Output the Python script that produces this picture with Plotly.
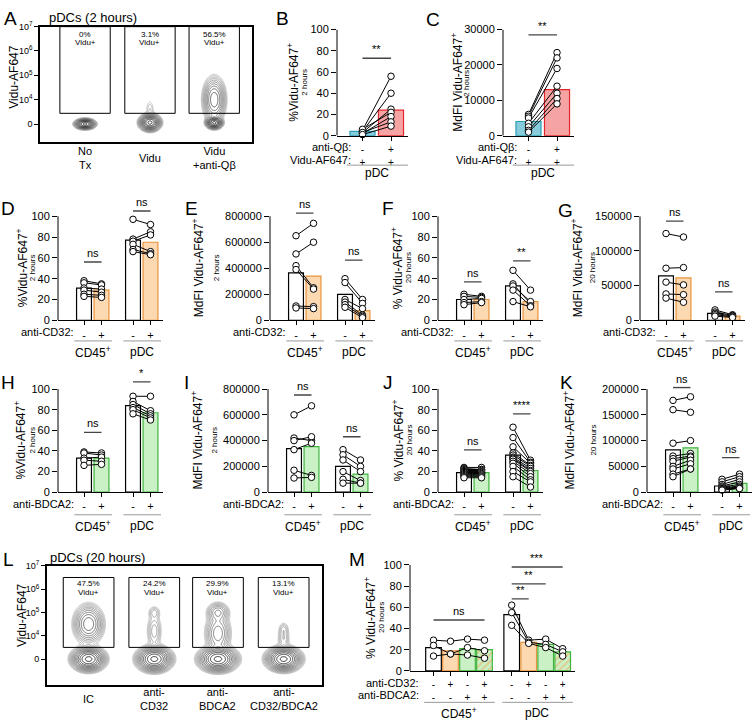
import numpy as np
import plotly.graph_objects as go

W, H = 756, 728
FONT = "Liberation Sans, Arial, Helvetica, sans-serif"

# ---------------- DATA ----------------
# A: flow plot, pDCs 2 h
A_labels = ["No<br>Tx", "Vidu", "Vidu<br>+anti-Qβ"]
A_pct = ["0%", "3.1%", "56.5%"]
A_centers = [0.68, 1.66, 2.63]
# contour populations per sample: (y position in decades, x spread, y spread, weight)
A_pops = [
    [(3.0, 0.062, 0.086, 1.0)],
    [(3.06, 0.065, 0.14, 1.0), (3.6, 0.04, 0.25, 0.02)],
    [(3.05, 0.05, 0.1, 1.0), (4.0, 0.075, 0.4, 0.3)],
]
# B: %Vidu-AF647+ pDC 2 h
B_means = [4, 24]
B_minus = [5, 4, 3, 6, 2, 3, 1]
B_plus = [56, 40, 25, 22, 18, 13, 9]
# C: MdFI pDC 2 h
C_means = [4000, 13000]
C_minus = [6000, 5500, 5000, 3500, 2500, 1500, 1000]
C_plus = [23500, 22000, 19000, 14000, 12000, 10500, 9000]
# D: %Vidu 2 h, anti-CD32
D_means = [31, 29, 77, 75]
D_cd45_ctrl = [38, 36, 31, 29, 25, 23]
D_cd45_trt = [35, 34, 30, 27, 24, 22]
D_pdc_ctrl = [97, 78, 76, 73, 68, 66]
D_pdc_trt = [92, 85, 82, 66, 64, 63]
# E: MdFI 2 h, anti-CD32
E_means = [365000, 340000, 200000, 75000]
E_cd45_ctrl = [650000, 510000, 420000, 390000, 110000, 95000]
E_cd45_trt = [745000, 600000, 250000, 240000, 105000, 90000]
E_pdc_ctrl = [320000, 290000, 160000, 140000, 120000, 100000]
E_pdc_trt = [160000, 130000, 90000, 40000, 30000, 20000]
# F: %Vidu 20 h, anti-CD32
F_means = [20, 20, 33, 18]
F_cd45_ctrl = [25, 23, 20, 17, 15]
F_cd45_trt = [23, 22, 21, 18, 17]
F_pdc_ctrl = [48, 35, 33, 29, 18]
F_pdc_trt = [29, 16, 18, 14, 13]
# G: MdFI 20 h, anti-CD32
G_means = [64000, 61000, 10000, 6000]
G_cd45_ctrl = [125000, 75000, 55000, 38000, 32000]
G_cd45_trt = [120000, 76000, 51000, 37000, 26000]
G_pdc_ctrl = [15000, 12000, 10000, 8000, 6000]
G_pdc_trt = [8000, 7000, 6000, 5000, 4000]
# H: %Vidu 2 h, anti-BDCA2
H_means = [33, 33, 84, 77]
H_cd45_ctrl = [39, 38, 33, 31, 26]
H_cd45_trt = [38, 36, 34, 30, 27]
H_pdc_ctrl = [93, 88, 85, 82, 80, 76]
H_pdc_trt = [93, 79, 76, 74, 72, 70]
# I: MdFI 2 h, anti-BDCA2
I_means = [338000, 354000, 200000, 140000]
I_cd45_ctrl = [600000, 420000, 400000, 330000, 170000, 110000]
I_cd45_trt = [670000, 400000, 430000, 380000, 130000, 115000]
I_pdc_ctrl = [330000, 290000, 250000, 160000, 100000, 70000]
I_pdc_trt = [250000, 200000, 160000, 90000, 70000, 70000]
# J: %Vidu 20 h, anti-BDCA2
J_means = [19, 19, 36, 21]
J_cd45_ctrl = [24, 23, 22, 21, 20, 20, 19, 19, 18, 17, 16, 15, 14]
J_cd45_trt = [24, 22, 22, 21, 20, 19, 19, 18, 18, 17, 16, 15, 14]
J_pdc_ctrl = [63, 53, 44, 38, 36, 34, 33, 32, 30, 28, 25, 20, 15]
J_pdc_trt = [31, 29, 28, 26, 25, 23, 21, 20, 18, 15, 12, 10, 5]
# K: MdFI 20 h, anti-BDCA2
K_means = [82000, 86000, 12000, 17000]
K_cd45_ctrl = [178000, 160000, 95000, 70000, 65000, 60000, 50000, 45000, 35000, 30000]
K_cd45_trt = [185000, 155000, 100000, 75000, 70000, 68000, 62000, 55000, 45000, 45000]
K_pdc_ctrl = [25000, 20000, 15000, 12000, 10000, 8000, 7000, 6000, 5000, 4000]
K_pdc_trt = [35000, 30000, 25000, 20000, 15000, 12000, 10000, 8000, 8000, 7000]
# L: flow plot, pDCs 20 h
L_labels = ["IC", "anti-<br>CD32", "anti-<br>BDCA2", "anti-<br>CD32/BDCA2"]
L_pct = ["47.5%", "24.2%", "29.9%", "13.1%"]
L_centers = [0.64, 1.65, 2.63, 3.64]
L_pops = [
    [(3.0, 0.105, 0.21, 1.0), (4.5, 0.1, 0.36, 0.3)],
    [(3.0, 0.11, 0.22, 1.0), (4.2, 0.06, 0.4, 0.05), (5.0, 0.05, 0.15, 0.03)],
    [(3.0, 0.12, 0.22, 1.0), (4.1, 0.09, 0.4, 0.15), (5.0, 0.08, 0.2, 0.12)],
    [(3.0, 0.11, 0.21, 1.0), (3.9, 0.05, 0.3, 0.04), (4.3, 0.04, 0.15, 0.02)],
]
# M: %Vidu 20 h, IC / anti-CD32 / anti-BDCA2 / both  (3 donors)
M_means = [22, 19, 21, 20, 53, 27, 25, 18]
M_cd45 = [[29, 24, 14], [28, 16, 16], [30, 22, 15], [29, 19, 12]]
M_pdc = [[62, 55, 43], [29, 27, 26], [30, 25, 22], [21, 18, 14]]

# ---------------- helpers ----------------
fig = go.Figure()
layout = {}
shapes = []
annos = []
nax = [0]


def fx(px):
    return px / W


def fy(py):
    return 1 - py / H


def new_axes(x0, x1, ytop, ybot, xrange, yrange, xkw=None, ykw=None):
    nax[0] += 1
    n = nax[0]
    s = '' if n == 1 else str(n)
    xa, ya = 'x' + s, 'y' + s
    base = dict(showgrid=False, zeroline=False, fixedrange=True)
    xd = dict(base, domain=[fx(x0), fx(x1)], range=xrange, anchor=ya)
    yd = dict(base, domain=[fy(ybot), fy(ytop)], range=yrange, anchor=xa)
    xd.update(xkw or {})
    yd.update(ykw or {})
    layout['xaxis' + s] = xd
    layout['yaxis' + s] = yd
    return xa, ya


def text(x, y, t, size=11, xref='paper', yref='paper', xanchor='center',
         yanchor='middle', angle=0, color='black'):
    if xref == 'paper':
        x = fx(x)
    if yref == 'paper':
        y = fy(y)
    annos.append(dict(x=x, y=y, xref=xref, yref=yref, text=t, showarrow=False,
                      xanchor=xanchor, yanchor=yanchor, textangle=angle,
                      font=dict(size=size, family=FONT, color=color)))


STY = {
    'white': ('white', 'black'),
    'orange': ('#fdd9b1', '#e8923a'),
    'green': ('#caf0c6', '#3db53d'),
    'teal': ('#86ccdb', '#2a9fb5'),
    'red': ('#f5a3a3', '#e3262b'),
    'hatch': ('#caf0c6', '#3db53d'),
}


def bar_panel(letter, lxy, axis_px, y0_px, ytop_px, ytop_val, yext, pos, unit,
              first_off, xend, means, styles, seqs, yticks, yticktext, ylab,
              ysub, ylab_x, ysub_x, sigs, rowlabs, signs, groups, line_dy, grp_dy,
              bw=0.85, row_dx=0.45, sign_size=11, row_step=14):
    ppu = (y0_px - ytop_px) / ytop_val
    top_px = y0_px - yext * ppu
    x1 = axis_px + (xend + first_off / unit) * unit
    xa, ya = new_axes(
        axis_px, x1, top_px, y0_px, [-first_off / unit, xend], [0, yext],
        xkw=dict(showline=True, linecolor='black', linewidth=1, ticks='outside',
                 ticklen=4, tickcolor='black', tickvals=pos, ticktext=signs,
                 showticklabels=True,
                 tickfont=dict(size=sign_size, family=FONT, color='black')),
        ykw=dict(showline=False, ticks='outside', ticklen=5, tickcolor='black',
                 tickvals=yticks, ticktext=yticktext,
                 tickfont=dict(size=11, family=FONT, color='black')))
    shapes.append(dict(type='line', xref=xa + ' domain', yref=ya, x0=0, x1=0,
                       y0=0, y1=ytop_val, line=dict(color='black', width=1)))
    for p, m, st in zip(pos, means, styles):
        fill, edge = STY[st]
        mk = dict(color=fill, line=dict(color=edge, width=1.2))
        if st == 'hatch':
            mk['pattern'] = dict(shape='/', fgcolor='#f5a54f', bgcolor=fill,
                                 size=5, solidity=0.35)
        fig.add_trace(go.Bar(x=[p], y=[m], width=bw, marker=mk, xaxis=xa,
                             yaxis=ya, hoverinfo='skip'))
    lx, ly, mx, my = [], [], [], []
    for seq in seqs:
        n = len(seq[0][1])
        for i in range(n):
            for (p, vals) in seq:
                lx.append(p)
                ly.append(vals[i])
            lx.append(None)
            ly.append(None)
        for (p, vals) in seq:
            mx += [p] * len(vals)
            my += list(vals)
    fig.add_trace(go.Scatter(x=lx, y=ly, mode='lines', xaxis=xa, yaxis=ya,
                             line=dict(color='black', width=1), hoverinfo='skip',
                             cliponaxis=False))
    fig.add_trace(go.Scatter(x=mx, y=my, mode='markers', xaxis=xa, yaxis=ya,
                             marker=dict(size=6.5, color='white',
                                         line=dict(color='black', width=1)),
                             hoverinfo='skip', cliponaxis=False))
    yc = (y0_px + ytop_px) / 2
    text(ylab_x, yc, ylab, size=12, angle=-90)
    text(ysub_x, yc, ysub, size=8, angle=-90)
    text(lxy[0], lxy[1], letter, size=19)
    for i, lab in enumerate(rowlabs):
        text(pos[0] - row_dx, y0_px + 12 + i * row_step, lab, size=11, xref=xa,
             xanchor='right')
    for (lab, pa, pb) in groups:
        yy = fy(y0_px + line_dy)
        shapes.append(dict(type='line', xref=xa, yref='paper', x0=pa - 0.55,
                           x1=pb + 0.6, y0=yy, y1=yy,
                           line=dict(color='#999999', width=1)))
        text((pa + pb) / 2, y0_px + grp_dy, lab, size=12, xref=xa)
    for (pa, pb, v, t) in sigs:
        shapes.append(dict(type='line', xref=xa, yref=ya, x0=pa, x1=pb, y0=v,
                           y1=v, line=dict(color='#444444', width=1.3)))
        annos.append(dict(x=(pa + pb) / 2, y=v, xref=xa, yref=ya, text=t,
                          showarrow=False, yanchor='bottom', yshift=1,
                          font=dict(size=11, family=FONT, color='black')))
    return xa, ya


def flow_panel(x0, x1, ytop, ybot, xr, yr, centers, pops, gate_half, gate_u,
               labels, label_y, frame_w):
    xa, ya = new_axes(
        x0, x1, ytop, ybot, xr, yr,
        xkw=dict(showline=True, mirror=True, linecolor='black', linewidth=frame_w,
                 ticks='', showticklabels=False),
        ykw=dict(showline=True, mirror=True, linecolor='black', linewidth=frame_w,
                 ticks='outside', ticklen=4, tickcolor='black',
                 tickvals=[3, 4, 5, 6, 7],
                 ticktext=['0', '10<sup>4</sup>', '10<sup>5</sup>',
                           '10<sup>6</sup>', '10<sup>7</sup>'],
                 tickfont=dict(size=9, family=FONT, color='black')))
    for c, plist, lab in zip(centers, pops, labels):
        xs = np.linspace(c - 0.5, c + 0.5, 160)
        ys = np.linspace(yr[0], yr[1], 260)
        X, Y = np.meshgrid(xs, ys)
        Z = np.zeros_like(X)
        for (u, sx, sy, w) in plist:
            Z += w * np.exp(-0.5 * ((X - c) / sx) ** 2 - 0.5 * ((Y - u) / sy) ** 2)
        Z = np.log10(Z / Z.max() + 1e-9)
        fig.add_trace(go.Contour(
            x=xs, y=ys, z=Z, xaxis=xa, yaxis=ya, showscale=False,
            contours=dict(coloring='lines', start=-2.0, end=-0.05, size=0.15),
            line=dict(width=0.8), zmin=-2.0, zmax=0, zauto=False,
            colorscale=[[0, '#b8b8b8'], [0.6, '#505050'], [1, '#000000']],
            hoverinfo='skip'))
        shapes.append(dict(type='rect', xref=xa, yref=ya, x0=c - gate_half,
                           x1=c + gate_half, y0=gate_u[0], y1=gate_u[1],
                           line=dict(color='black', width=1)))
        text(c, label_y, lab, size=11, xref=xa)
    return xa, ya


# ---------------- PANEL A ----------------
xa, ya = flow_panel(40, 252, 20, 137, [0, 3.2], [2.28, 7], A_centers, A_pops,
                    0.38, (3.44, 7.0), A_labels, 154, 1.5)
for c, p in zip(A_centers, A_pct):
    text(c, 6.68, p, size=8, xref=xa, yref=ya)
    text(c, 6.36, 'Vidu+', size=8, xref=xa, yref=ya)
text(10, 12, 'A', size=19)
text(47, 11, 'pDCs (2 hours)', size=13, xanchor='left')
text(14, 72, 'Vidu-AF647', size=12, angle=-90)

# ---------------- PANEL B / C ----------------
pct_ticks = [0, 20, 40, 60, 80, 100]
pct_text = [str(v) for v in pct_ticks]
BC_rowlabs = ["anti-Qβ:", "Vidu-AF647:"]
BC_signs = ['-<br>+', '+<br>+']
bar_panel('B', (282, 12), 337, 131, 23, 100, 100, [0, 1], 28.5, 25.5, 1.6,
          B_means, ['teal', 'red'], [[(0, B_minus), (1, B_plus)]],
          pct_ticks, pct_text, '%Vidu-AF647<sup>+</sup>', '2 hours', 293, 305,
          [(0, 1, 73, '**')], BC_rowlabs, BC_signs, [("pDC", 0, 1)], 30, 38,
          bw=0.88, row_dx=0.35, sign_size=10, row_step=13)
c_ticks = [0, 10000, 20000, 30000]
bar_panel('C', (433, 13), 503, 131, 23, 30000, 30000, [0, 1], 28.5, 25.5, 1.6,
          C_means, ['teal', 'red'], [[(0, C_minus), (1, C_plus)]],
          c_ticks, [str(v) for v in c_ticks], 'MdFI Vidu-AF647<sup>+</sup>',
          '2 hours', 457, 467, [(0, 1, 28500, '**')], BC_rowlabs, BC_signs,
          [("pDC", 0, 1)], 30, 38, bw=0.88, row_dx=0.35, sign_size=10,
          row_step=13)

# ---------------- rows D-G and H-K ----------------
POS4 = [0, 1, 2.8, 3.8]
SIGN4 = ['-', '+', '-', '+']
GRP = [("CD45<sup>+</sup>", 0, 1), ("pDC", 2.8, 3.8)]
mdfi8 = [0, 200000, 400000, 600000, 800000]
mdfi15 = [0, 50000, 100000, 150000]
mdfi20 = [0, 50000, 100000, 150000, 200000]


def row_panel(letter, lxy, axis_px, y0, ytop, tv, yext, means, sty2, data,
              ticks, ylab, ysub, ylx, ysx, sigs, rowlab):
    bar_panel(letter, lxy, axis_px, y0, ytop, tv, yext, POS4, 17.5, 26, 4.5,
              means, ['white', sty2, 'white', sty2],
              [[(0, data[0]), (1, data[1])], [(2.8, data[2]), (3.8, data[3])]],
              ticks, [str(v) for v in ticks], ylab, ysub, ylx, ysx, sigs,
              [rowlab], SIGN4, GRP, 21 if y0 < 400 else 23,
              32 if y0 < 400 else 34)


Y2, T2 = 319, 213
row_panel('D', (8, 205), 58, Y2, T2, 100, 108, D_means, 'orange',
          [D_cd45_ctrl, D_cd45_trt, D_pdc_ctrl, D_pdc_trt], pct_ticks,
          '%Vidu-AF647<sup>+</sup>', '2 hours', 22, 32,
          [(0, 1, 56, 'ns'), (2.8, 3.8, 105, 'ns')], 'anti-CD32:')
row_panel('E', (191, 205), 270, Y2, T2, 800000, 850000, E_means, 'orange',
          [E_cd45_ctrl, E_cd45_trt, E_pdc_ctrl, E_pdc_trt], mdfi8,
          'MdFI Vidu-AF647<sup>+</sup>', '2 hours', 198, 216,
          [(0, 1, 823000, 'ns'), (2.8, 3.8, 462000, 'ns')], 'anti-CD32:')
row_panel('F', (388, 205), 438, Y2, T2, 100, 100, F_means, 'orange',
          [F_cd45_ctrl, F_cd45_trt, F_pdc_ctrl, F_pdc_trt], pct_ticks,
          '% Vidu-AF647<sup>+</sup>', '20 hours', 397, 408,
          [(0, 1, 37, 'ns'), (2.8, 3.8, 57, '**')], 'anti-CD32:')
row_panel('G', (565, 207), 640, Y2, T2, 150000, 150000, G_means, 'orange',
          [G_cd45_ctrl, G_cd45_trt, G_pdc_ctrl, G_pdc_trt], mdfi15,
          'MdFI Vidu-AF647<sup>+</sup>', '20 hours', 577, 592,
          [(0, 1, 143000, 'ns'), (2.8, 3.8, 41000, 'ns')], 'anti-CD32:')

Y3, T3 = 494, 389
row_panel('H', (8, 382), 58, Y3, T3, 100, 110, H_means, 'green',
          [H_cd45_ctrl, H_cd45_trt, H_pdc_ctrl, H_pdc_trt], pct_ticks,
          '%Vidu-AF647<sup>+</sup>', '2 hours', 20, 33,
          [(0, 1, 58, 'ns'), (2.8, 3.8, 107, '*')], 'anti-BDCA2:')
row_panel('I', (186, 382), 268, Y3, T3, 800000, 800000, I_means, 'green',
          [I_cd45_ctrl, I_cd45_trt, I_pdc_ctrl, I_pdc_trt], mdfi8,
          'MdFI Vidu-AF647<sup>+</sup>', '2 hours', 197, 215,
          [(0, 1, 754000, 'ns'), (2.8, 3.8, 430000, 'ns')], 'anti-BDCA2:')
row_panel('J', (388, 382), 438, Y3, T3, 100, 100, J_means, 'green',
          [J_cd45_ctrl, J_cd45_trt, J_pdc_ctrl, J_pdc_trt], pct_ticks,
          '% Vidu-AF647<sup>+</sup>', '20 hours', 398, 410,
          [(0, 1, 41, 'ns'), (2.8, 3.8, 76, '****')], 'anti-BDCA2:')
row_panel('K', (566, 382), 647, Y3, T3, 200000, 205000, K_means, 'green',
          [K_cd45_ctrl, K_cd45_trt, K_pdc_ctrl, K_pdc_trt], mdfi20,
          'MdFI Vidu-AF647<sup>+</sup>', '20 hours', 569, 594,
          [(0, 1, 203000, 'ns'), (2.8, 3.8, 67000, 'ns')], 'anti-BDCA2:')

# ---------------- PANEL L ----------------
xa, ya = flow_panel(47, 322, 569, 690, [0, 4.23], [1.9, 7], L_centers, L_pops,
                    0.39, (3.5, 6.5), L_labels, 705, 2)
for c, p in zip(L_centers, L_pct):
    text(c, 6.24, p, size=8, xref=xa, yref=ya)
    text(c, 5.86, 'Vidu+', size=8, xref=xa, yref=ya)
text(8, 563, 'L', size=19)
text(48, 560, 'pDCs (20 hours)', size=13, xanchor='left')
text(22, 620, 'Vidu-AF647', size=12, angle=-90)

# ---------------- PANEL M ----------------
POS8 = [0, 1, 2, 3, 4.6, 5.6, 6.6, 7.6]
M_signs = ['-<br>-', '+<br>-', '-<br>+', '+<br>+'] * 2
bar_panel('M', (357, 563), 410, 676, 568, 100, 100, POS8, 17, 23.5, 8.3,
          M_means, ['white', 'orange', 'green', 'hatch'] * 2,
          [[(POS8[i], M_cd45[i]) for i in range(4)],
           [(POS8[4 + i], M_pdc[i]) for i in range(4)]],
          pct_ticks, pct_text, '% Vidu-AF647<sup>+</sup>', '20 hours', 370, 382,
          [(0, 3, 48, 'ns'), (4.6, 5.6, 68, '**'), (4.6, 6.6, 82, '**'),
           (4.6, 7.6, 98, '***')],
          ["anti-CD32:", "anti-BDCA2:"], M_signs,
          [("CD45<sup>+</sup>", 0, 3), ("pDC", 4.6, 7.6)], 32, 43, bw=0.92,
          row_dx=0.75, sign_size=10, row_step=13)

fig.update_layout(
    width=W, height=H, margin=dict(l=0, r=0, t=0, b=0, pad=0),
    paper_bgcolor='white', plot_bgcolor='rgba(0,0,0,0)', showlegend=False,
    barmode='overlay', font=dict(family=FONT, size=11, color='black'),
    shapes=shapes, annotations=annos, **layout)
fig.write_html("out.html", config={'displayModeBar': False})
